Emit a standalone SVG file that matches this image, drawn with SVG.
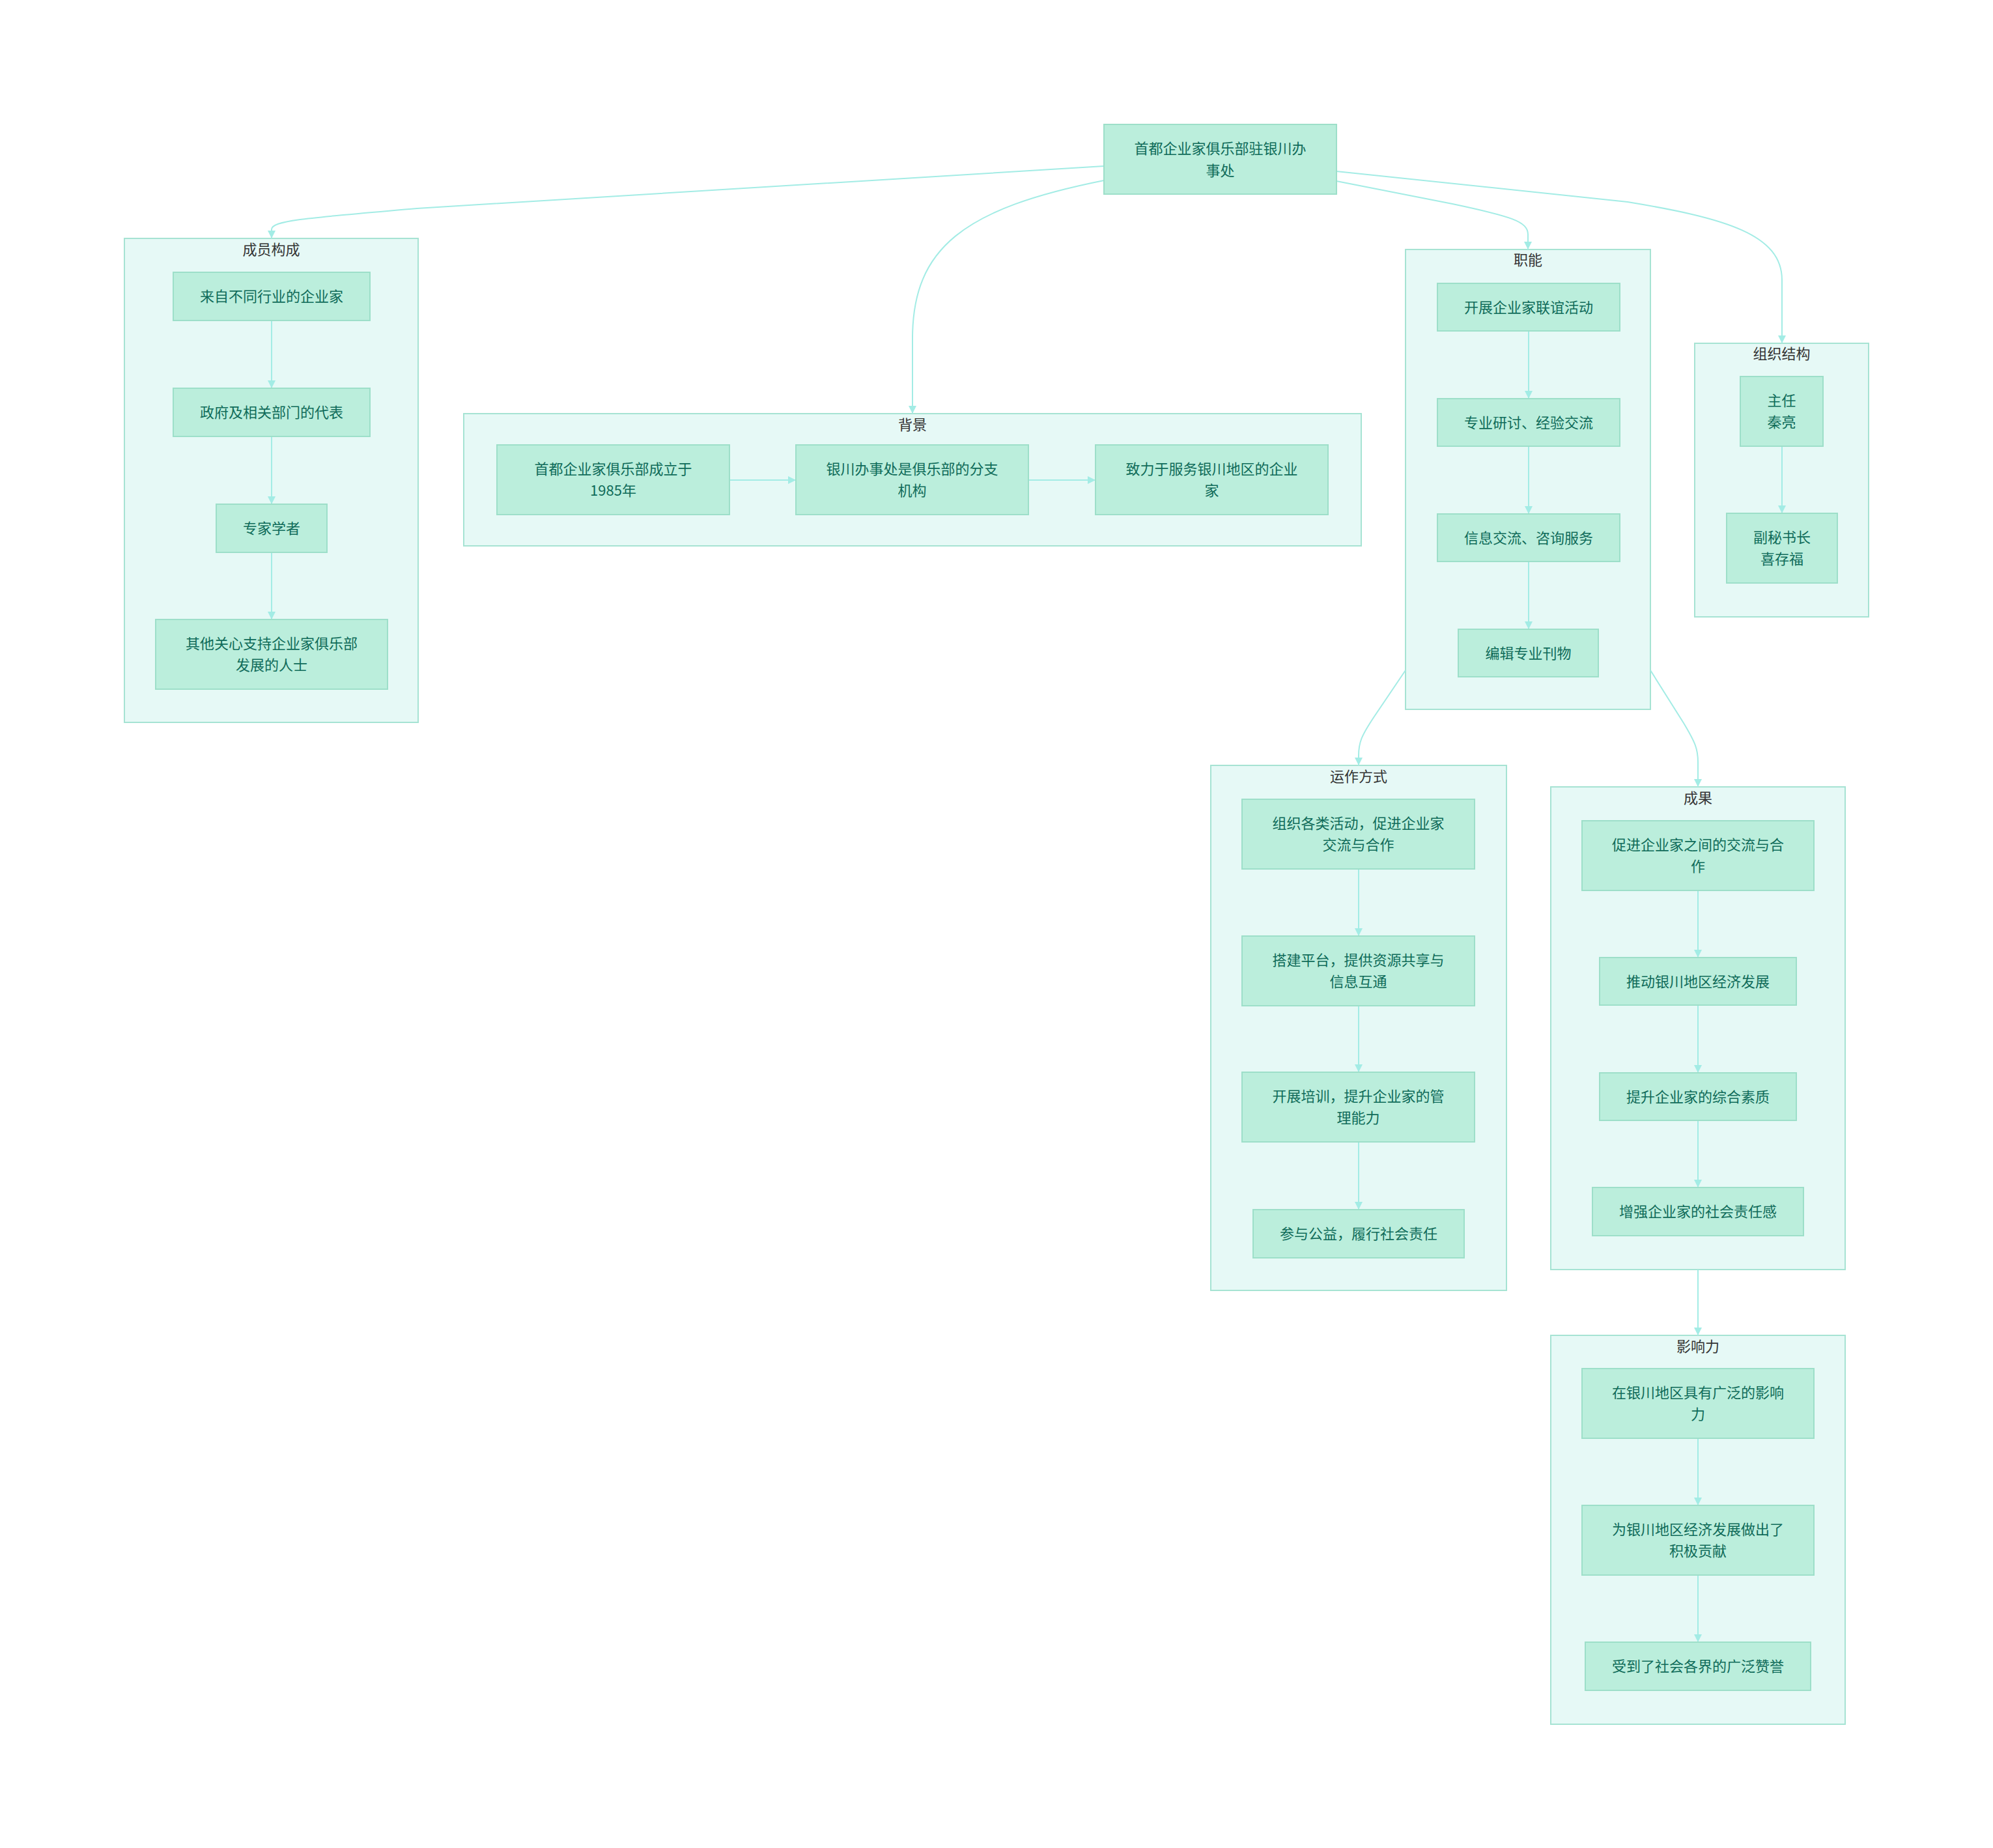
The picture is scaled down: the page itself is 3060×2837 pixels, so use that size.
<svg xmlns="http://www.w3.org/2000/svg" width="3060" height="2837" viewBox="0 0 3060 2837">
<style>
.cl{fill:#e6f9f6;stroke:#a6e3d3;stroke-width:2}
.nd{fill:#bbeedc;stroke:#9ddfc9;stroke-width:2}
.t{font-family:"Noto Sans CJK SC","Noto Sans",sans-serif;font-size:22px;fill:#0f6b59;text-anchor:middle;dominant-baseline:central;transform:translateY(-2px)}
.ct{font-family:"Noto Sans CJK SC","Noto Sans",sans-serif;font-size:22px;fill:#333333;text-anchor:middle;dominant-baseline:central;transform:translateY(-2px)}
.e{fill:none;stroke:#a3ece5;stroke-width:2;marker-end:url(#ah)}
</style>
<defs>
<marker id="ah" viewBox="0 0 10 10" refX="10" refY="5" markerUnits="userSpaceOnUse" markerWidth="12" markerHeight="12" orient="auto">
<path d="M0,0 L10,5 L0,10 z" fill="#a3ece5"/>
</marker>
</defs>
<rect width="3060" height="2837" fill="#ffffff"/>

<g id="cluster-members">
<rect class="cl" x="191" y="366" width="451" height="743"/>
<text class="ct" x="416.5" y="383">成员构成</text>
</g>
<g id="cluster-background">
<rect class="cl" x="712" y="635" width="1378" height="203"/>
<text class="ct" x="1401" y="652">背景</text>
</g>
<g id="cluster-functions">
<rect class="cl" x="2158" y="383" width="376" height="706"/>
<text class="ct" x="2346" y="399">职能</text>
</g>
<g id="cluster-org">
<rect class="cl" x="2602" y="527" width="267" height="420"/>
<text class="ct" x="2735.5" y="543">组织结构</text>
</g>
<g id="cluster-operation">
<rect class="cl" x="1859" y="1175" width="454" height="806"/>
<text class="ct" x="2086" y="1192">运作方式</text>
</g>
<g id="cluster-results">
<rect class="cl" x="2381" y="1208" width="452" height="741"/>
<text class="ct" x="2607" y="1225">成果</text>
</g>
<g id="cluster-influence">
<rect class="cl" x="2381" y="2050" width="452" height="597"/>
<text class="ct" x="2607" y="2067">影响力</text>
</g>

<g id="connectors">
<path class="e" d="M1695,255 L640,320 C480,334 417,338 417,352 L417,366"/>
<path class="e" d="M1695,277 C1480,320 1401,380 1401,520 L1401,635"/>
<path class="e" d="M2052,278 L2230,313 C2320,332 2346,340 2346,360 L2346,383"/>
<path class="e" d="M2052,263 L2499,310 C2650,335 2736,360 2736,430 L2736,527"/>
<path class="e" d="M2158,1029 L2110,1100 C2090,1130 2086,1140 2086,1160 L2086,1175"/>
<path class="e" d="M2534,1029 L2585,1110 C2603,1140 2607,1150 2607,1170 L2607,1208"/>
<path class="e" d="M2607,1949 L2607,2050"/>
<path class="e" d="M417,492 L417,596"/>
<path class="e" d="M417,670 L417,774"/>
<path class="e" d="M417,848 L417,951"/>
<path class="e" d="M1120,737 L1222,737"/>
<path class="e" d="M1579,737 L1682,737"/>
<path class="e" d="M2347,508 L2347,612"/>
<path class="e" d="M2347,685 L2347,789"/>
<path class="e" d="M2347,862 L2347,966"/>
<path class="e" d="M2736,685 L2736,788"/>
<path class="e" d="M2086,1334 L2086,1437"/>
<path class="e" d="M2086,1544 L2086,1646"/>
<path class="e" d="M2086,1753 L2086,1857"/>
<path class="e" d="M2607,1367 L2607,1470"/>
<path class="e" d="M2607,1543 L2607,1647"/>
<path class="e" d="M2607,1720 L2607,1823"/>
<path class="e" d="M2607,2208 L2607,2311"/>
<path class="e" d="M2607,2418 L2607,2521"/>
</g>

<g id="root">
<rect class="nd" x="1695" y="191" width="357" height="107"/>
<text class="t" x="1873.5" y="228">首都企业家俱乐部驻银川办</text>
<text class="t" x="1873.5" y="262">事处</text>
</g>

<g id="m1"><rect class="nd" x="266" y="418" width="302" height="74"/><text class="t" x="417" y="455">来自不同行业的企业家</text></g>
<g id="m2"><rect class="nd" x="266" y="596" width="302" height="74"/><text class="t" x="417" y="633">政府及相关部门的代表</text></g>
<g id="m3"><rect class="nd" x="332" y="774" width="170" height="74"/><text class="t" x="417" y="811">专家学者</text></g>
<g id="m4"><rect class="nd" x="239" y="951" width="356" height="107"/><text class="t" x="417" y="988">其他关心支持企业家俱乐部</text><text class="t" x="417" y="1021">发展的人士</text></g>

<g id="b1"><rect class="nd" x="763" y="683" width="357" height="107"/><text class="t" x="941.5" y="720">首都企业家俱乐部成立于</text><text class="t" x="941.5" y="753">1985年</text></g>
<g id="b2"><rect class="nd" x="1222" y="683" width="357" height="107"/><text class="t" x="1400.5" y="720">银川办事处是俱乐部的分支</text><text class="t" x="1400.5" y="753">机构</text></g>
<g id="b3"><rect class="nd" x="1682" y="683" width="357" height="107"/><text class="t" x="1860.5" y="720">致力于服务银川地区的企业</text><text class="t" x="1860.5" y="753">家</text></g>

<g id="z1"><rect class="nd" x="2207" y="435" width="280" height="73"/><text class="t" x="2347" y="471.5">开展企业家联谊活动</text></g>
<g id="z2"><rect class="nd" x="2207" y="612" width="280" height="73"/><text class="t" x="2347" y="648.5">专业研讨、经验交流</text></g>
<g id="z3"><rect class="nd" x="2207" y="789" width="280" height="73"/><text class="t" x="2347" y="825.5">信息交流、咨询服务</text></g>
<g id="z4"><rect class="nd" x="2239" y="966" width="215" height="73"/><text class="t" x="2346.5" y="1002.5">编辑专业刊物</text></g>

<g id="o1"><rect class="nd" x="2672" y="578" width="127" height="107"/><text class="t" x="2735.5" y="615">主任</text><text class="t" x="2735.5" y="648">秦亮</text></g>
<g id="o2"><rect class="nd" x="2651" y="788" width="170" height="107"/><text class="t" x="2736" y="825">副秘书长</text><text class="t" x="2736" y="858">喜存福</text></g>

<g id="y1"><rect class="nd" x="1907" y="1227" width="357" height="107"/><text class="t" x="2085.5" y="1264">组织各类活动，促进企业家</text><text class="t" x="2085.5" y="1297">交流与合作</text></g>
<g id="y2"><rect class="nd" x="1907" y="1437" width="357" height="107"/><text class="t" x="2085.5" y="1474">搭建平台，提供资源共享与</text><text class="t" x="2085.5" y="1507">信息互通</text></g>
<g id="y3"><rect class="nd" x="1907" y="1646" width="357" height="107"/><text class="t" x="2085.5" y="1683">开展培训，提升企业家的管</text><text class="t" x="2085.5" y="1716">理能力</text></g>
<g id="y4"><rect class="nd" x="1924" y="1857" width="324" height="74"/><text class="t" x="2086" y="1894">参与公益，履行社会责任</text></g>

<g id="c1"><rect class="nd" x="2429" y="1260" width="356" height="107"/><text class="t" x="2607" y="1297">促进企业家之间的交流与合</text><text class="t" x="2607" y="1330">作</text></g>
<g id="c2"><rect class="nd" x="2456" y="1470" width="302" height="73"/><text class="t" x="2607" y="1506.5">推动银川地区经济发展</text></g>
<g id="c3"><rect class="nd" x="2456" y="1647" width="302" height="73"/><text class="t" x="2607" y="1683.5">提升企业家的综合素质</text></g>
<g id="c4"><rect class="nd" x="2445" y="1823" width="324" height="74"/><text class="t" x="2607" y="1860">增强企业家的社会责任感</text></g>

<g id="i1"><rect class="nd" x="2429" y="2101" width="356" height="107"/><text class="t" x="2607" y="2138">在银川地区具有广泛的影响</text><text class="t" x="2607" y="2171">力</text></g>
<g id="i2"><rect class="nd" x="2429" y="2311" width="356" height="107"/><text class="t" x="2607" y="2348">为银川地区经济发展做出了</text><text class="t" x="2607" y="2381">积极贡献</text></g>
<g id="i3"><rect class="nd" x="2434" y="2521" width="346" height="74"/><text class="t" x="2607" y="2558">受到了社会各界的广泛赞誉</text></g>
</svg>
